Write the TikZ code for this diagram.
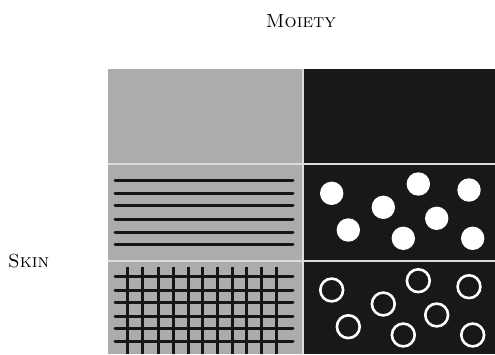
\documentclass[tikz,border=0pt]{standalone}
\definecolor{panelgrey}{RGB}{172,172,172}
\definecolor{paneldark}{RGB}{24,24,24}
\definecolor{divcol}{RGB}{220,220,220}
\definecolor{inkline}{RGB}{22,22,22}
\tikzset{
  labeltext/.style={font=\fontsize{19}{22}\selectfont, inner sep=0pt},
  stripe/.style={draw=inkline, line width=3pt, line cap=round},
  dot/.style={fill=white},
  ring/.style={draw=white, line width=2.6pt}
}
\begin{document}
\begin{tikzpicture}[x=1pt,y=-1pt]
\useasboundingbox (0,0) rectangle (495,354);
% background for dividers
\fill[divcol] (108,69) rectangle (495,354);
% panels
\fill[panelgrey] (108,69) rectangle (302,163.2);
\fill[paneldark] (303.6,69) rectangle (495,163.2);
\fill[panelgrey] (108,165) rectangle (302,260);
\fill[paneldark] (303.6,165) rectangle (495,260);
\fill[panelgrey] (108,261.8) rectangle (302,354);
\fill[paneldark] (303.6,261.8) rectangle (495,354);
% labels
\node[labeltext, anchor=base] (moiety) at (301,27) {\textsc{Moiety}};
\node[labeltext, anchor=base west] (skin) at (8,267) {\textsc{Skin}};
% stripes
\foreach \y in {180.7,193.3,205.7,219.3,232.7,244.3}
  \draw[stripe] (115,\y) -- (293,\y);
% grid
\foreach \y in {276.7,290,302.7,316,328.7,341.7}
  \draw[stripe] (115,\y) -- (293,\y);
\foreach \x in {127.3,142.3,158.3,173.3,188.3,202.7,217.3,232.3,246.7,261.7,276}
  \draw[stripe, line cap=butt] (\x,266.7) -- (\x,354);
% dots
\foreach \x/\y in {331.7/193.3, 418.3/184, 469/190, 383.3/207.3, 436.7/218.3, 348.3/230, 403.3/238.3, 472.7/238.3}
  \fill[dot] (\x,\y) circle (11.7);
% rings
\foreach \x/\y in {331.7/290, 418.3/280.7, 469/286.7, 383.3/304, 436.7/315, 348.3/326.7, 403.3/335, 472.7/335}
  \draw[ring] (\x,\y) circle (11.4);
\end{tikzpicture}
\end{document}
